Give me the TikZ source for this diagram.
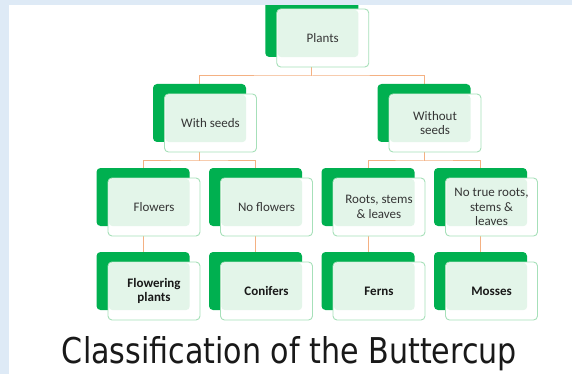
\documentclass[tikz,border=0pt]{standalone}
\usepackage{fontspec}
\setmainfont{Carlito}
\newfontfamily\titlefont{DejaVu Sans}
\usetikzlibrary{calc}
\definecolor{bandblue}{HTML}{DEEAF6}
\definecolor{dgreen}{HTML}{00B050}
\definecolor{lgreenfill}{HTML}{E3F5E9}
\definecolor{lgreenline}{HTML}{A6E0B9}
\definecolor{connc}{HTML}{F4B183}
\definecolor{txt}{HTML}{353535}
\pgfdeclarelayer{back}
\pgfdeclarelayer{bg}
\pgfsetlayers{back,bg,main}
\tikzset{
  darkbox/.style={fill=dgreen, draw=none, rounded corners=4pt, minimum width=93pt, minimum height=58pt, inner sep=0pt},
  lightbox/.style={fill=white, draw=lgreenline, line width=0.9pt, rounded corners=4pt, minimum width=92pt, minimum height=58pt, inner sep=0pt},
  boxtext/.style={text=txt, font=\fontsize{13}{14.8}\selectfont, align=center, inner sep=0pt},
  boldtext/.style={text=black!90, font=\bfseries\fontsize{13}{14.8}\selectfont, align=center, inner sep=0pt},
  connline/.style={draw=connc, line width=1pt},
}
\newcommand\gbox[5]{%
  \node[darkbox] (#1-d) at (#2,#3) {};
  \node[lightbox] (#1) at ($(#1-d)+(11,10)$) {};
  \fill[lgreenfill, rounded corners=4pt] ($(#1.north west)+(1.2,1.2)$) rectangle (#1-d.south east);
  \node[#4] (#1-t) at (#1) {#5};
}
\begin{document}
\begin{tikzpicture}[x=1pt,y=-1pt]
\useasboundingbox (0,0) rectangle (572,374);
\begin{pgfonlayer}{back}
  \fill[bandblue] (0,0) rectangle (572,374);
  \fill[white] (9,5) rectangle (572,374);
\end{pgfonlayer}

\gbox{plants}{311.75}{28}{boxtext}{Plants}
\gbox{wseeds}{199.5}{113}{boxtext}{With seeds}
\gbox{woseeds}{424}{113}{boxtext}{Without\\seeds}
\gbox{flowers}{143}{197}{boxtext}{Flowers}
\gbox{noflowers}{255.5}{197}{boxtext}{No flowers}
\gbox{roots}{368}{197}{boxtext}{Roots, stems\\\& leaves}
\gbox{noroots}{480.5}{197}{boxtext}{No true roots,\\stems \&\\leaves}
\gbox{fplants}{143}{281}{boldtext}{Flowering\\plants}
\gbox{conifers}{255.5}{281}{boldtext}{Conifers}
\gbox{ferns}{368}{281}{boldtext}{Ferns}
\gbox{mosses}{480.5}{281}{boldtext}{Mosses}

\coordinate (j1) at (311.75,76);
\coordinate (j2) at (199.5,161);
\coordinate (j3) at (424,161);
\begin{pgfonlayer}{bg}
  \draw[connline] (plants-d.south) -- (j1);
  \draw[connline] (wseeds-d.north) |- (j1) -| (woseeds-d.north);
  \draw[connline] (wseeds-d.south) -- (j2);
  \draw[connline] (flowers-d.north) |- (j2) -| (noflowers-d.north);
  \draw[connline] (woseeds-d.south) -- (j3);
  \draw[connline] (roots-d.north) |- (j3) -| (noroots-d.north);
  \draw[connline] (flowers-d.south) -- (fplants-d.north);
  \draw[connline] (noflowers-d.south) -- (conifers-d.north);
  \draw[connline] (roots-d.south) -- (ferns-d.north);
  \draw[connline] (noroots-d.south) -- (mosses-d.north);
\end{pgfonlayer}

\fill[bandblue] (0,0) rectangle (572,5);
\node[anchor=base, inner sep=0pt, text=black!90] (title) at (289.5,363)
  {\resizebox{455pt}{27pt}{\titlefont Classification of the Buttercup}};
\end{tikzpicture}
\end{document}
